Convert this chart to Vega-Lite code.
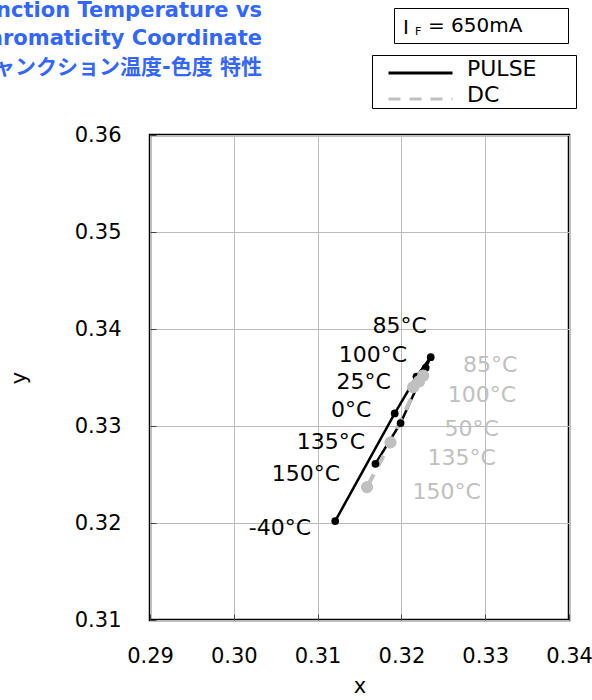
{
  "$schema": "https://vega.github.io/schema/vega-lite/v6.json",
  "autosize": "none",
  "width": 419,
  "height": 485,
  "padding": {"left": 150, "top": 135, "right": 23, "bottom": 80},
  "background": "white",
  "config": {
    "font": "DejaVu Sans",
    "view": {"stroke": "black", "strokeWidth": 2.5},
    "axis": {
      "labelFontSize": 21,
      "labelColor": "black",
      "labelFlush": false,
      "titleFontSize": 21,
      "titleColor": "black",
      "titleFontWeight": "normal",
      "grid": true,
      "gridColor": "#bbbbbb",
      "gridWidth": 1,
      "domain": false,
      "tickColor": "#444444",
      "tickSize": -6,
      "tickWidth": 1
    }
  },
  "title": {
    "text": ["Junction Temperature vs", "Chromaticity Coordinate", "ジャンクション温度-色度 特性"],
    "anchor": "start",
    "frame": "group",
    "align": "right",
    "baseline": "bottom",
    "dx": 112,
    "offset": -91,
    "color": "#3366ff",
    "fontSize": 21,
    "fontWeight": "bold",
    "font": "DejaVu Sans, Noto Sans CJK JP",
    "lineHeight": 28.5
  },
  "datasets": {
    "pts": [
      {"series": "PULSE", "temp": -40, "x": 0.3121, "y": 0.3202, "label": "-40°C", "lx": 0.3055, "ly": 0.3195},
      {"series": "PULSE", "temp": 0, "x": 0.3192, "y": 0.3313, "label": "0°C", "lx": 0.3140, "ly": 0.3316},
      {"series": "PULSE", "temp": 25, "x": 0.3218, "y": 0.3351, "label": "25°C", "lx": 0.3155, "ly": 0.3345},
      {"series": "PULSE", "temp": 85, "x": 0.3235, "y": 0.3371, "label": "85°C", "lx": 0.3198, "ly": 0.3403},
      {"series": "PULSE", "temp": 100, "x": 0.3229, "y": 0.3360, "label": "100°C", "lx": 0.3166, "ly": 0.3373},
      {"series": "PULSE", "temp": 135, "x": 0.3199, "y": 0.3303, "label": "135°C", "lx": 0.3116, "ly": 0.3283},
      {"series": "PULSE", "temp": 150, "x": 0.3169, "y": 0.3261, "label": "150°C", "lx": 0.3086, "ly": 0.3251},
      {"series": "DC", "temp": 50, "x": 0.3214, "y": 0.3340, "label": "50°C", "lx": 0.3284, "ly": 0.3297},
      {"series": "DC", "temp": 85, "x": 0.3226, "y": 0.3352, "label": "85°C", "lx": 0.3306, "ly": 0.3363},
      {"series": "DC", "temp": 100, "x": 0.3221, "y": 0.3346, "label": "100°C", "lx": 0.3296, "ly": 0.3332},
      {"series": "DC", "temp": 135, "x": 0.3187, "y": 0.3283, "label": "135°C", "lx": 0.3272, "ly": 0.3267},
      {"series": "DC", "temp": 150, "x": 0.3159, "y": 0.3237, "label": "150°C", "lx": 0.3254, "ly": 0.3232}
    ],
    "sub": [{"part": "F"}],
    "cond": [{"part": "= 650mA"}]
  },
  "layer": [
    {
      "data": {"name": "pts"},
      "transform": [{"filter": "datum.series === 'PULSE'"}],
      "mark": {"type": "line", "strokeWidth": 2.5},
      "encoding": {
        "x": {"field": "x", "type": "quantitative", "title": "x",
          "scale": {"domain": [0.29, 0.34], "nice": false, "zero": false},
          "axis": {"values": [0.29, 0.30, 0.31, 0.32, 0.33, 0.34], "format": ".2f", "labelPadding": 31, "titlePadding": 9}},
        "y": {"field": "y", "type": "quantitative", "title": "y",
          "scale": {"domain": [0.31, 0.36], "nice": false, "zero": false},
          "axis": {"values": [0.31, 0.32, 0.33, 0.34, 0.35, 0.36], "format": ".2f", "labelPadding": 35, "titlePadding": 45}},
        "order": {"field": "temp", "type": "quantitative"},
        "color": {"field": "series", "type": "nominal",
          "scale": {"domain": ["PULSE", "DC"], "range": ["black", "#c0c0c0"]},
          "legend": {"orient": "none", "legendX": 222, "legendY": -80, "title": null,
            "symbolType": "M-3.2,0.45H3.2M14.7,0.45", "symbolSize": 400, "symbolStrokeWidth": 3,
            "labelFontSize": 22, "labelColor": "black", "labelOffset": 35, "labelLimit": 400,
            "strokeColor": "black", "padding": 2, "symbolOffset": 35, "rowPadding": 3}},
        "strokeDash": {"field": "series", "type": "nominal",
          "scale": {"domain": ["PULSE", "DC"], "range": [[1, 0], [12, 9]]}}
      }
    },
    {
      "data": {"name": "pts"},
      "transform": [{"filter": "datum.series === 'DC'"}],
      "mark": {"type": "line", "strokeWidth": 4},
      "encoding": {
        "x": {"field": "x", "type": "quantitative", "title": "x"},
        "y": {"field": "y", "type": "quantitative", "title": "y"},
        "order": {"field": "temp", "type": "quantitative"},
        "color": {"field": "series", "type": "nominal"},
        "strokeDash": {"field": "series", "type": "nominal"}
      }
    },
    {
      "data": {"name": "pts"},
      "transform": [{"filter": "datum.series === 'PULSE'"}],
      "mark": {"type": "circle", "color": "black", "size": 60, "opacity": 1},
      "encoding": {
        "x": {"field": "x", "type": "quantitative", "title": "x"},
        "y": {"field": "y", "type": "quantitative", "title": "y"}
      }
    },
    {
      "data": {"name": "pts"},
      "transform": [{"filter": "datum.series === 'DC'"}],
      "mark": {"type": "circle", "color": "#c0c0c0", "size": 150, "opacity": 1},
      "encoding": {
        "x": {"field": "x", "type": "quantitative", "title": "x"},
        "y": {"field": "y", "type": "quantitative", "title": "y"}
      }
    },
    {
      "data": {"name": "pts"},
      "mark": {"type": "text", "fontSize": 22, "align": "center", "baseline": "middle"},
      "encoding": {
        "x": {"field": "lx", "type": "quantitative", "title": "x"},
        "y": {"field": "ly", "type": "quantitative", "title": "y"},
        "text": {"field": "label"},
        "color": {"condition": {"test": "datum.series === 'DC'", "value": "#c0c0c0"}, "value": "black"}
      }
    },
    {
      "data": {"name": "cond"},
      "mark": {"type": "point", "opacity": 0, "filled": true},
      "encoding": {
        "fill": {"field": "part", "type": "nominal",
          "scale": {"domain": ["= 650mA"]},
          "legend": {"orient": "none", "legendX": 244, "legendY": -127,
            "title": null,
            "symbolType": "M-10,0M149,0", "symbolSize": 4,
            "symbolOpacity": 0, "symbolStrokeWidth": 0, "symbolOffset": 0,
            "labelOffset": 6.5, "labelFontSize": 20, "labelColor": "black", "labelLimit": 400,
            "strokeColor": "black", "padding": 7.5}}
      }
    },
    {
      "data": {"name": "sub"},
      "mark": {"type": "point", "opacity": 0},
      "encoding": {
        "shape": {"field": "part", "type": "nominal",
          "legend": {"orient": "none", "legendX": 253, "legendY": -115,
            "title": "I", "titleOrient": "left", "titleFontSize": 20, "titleFontWeight": "normal",
            "titleColor": "black", "titlePadding": 6,
            "symbolSize": 0.01, "symbolOpacity": 0, "symbolStrokeWidth": 0, "symbolOffset": -11,
            "labelOffset": 0, "labelFontSize": 11, "labelColor": "black", "labelBaseline": "top",
            "padding": 0}}
      }
    }
  ]
}
